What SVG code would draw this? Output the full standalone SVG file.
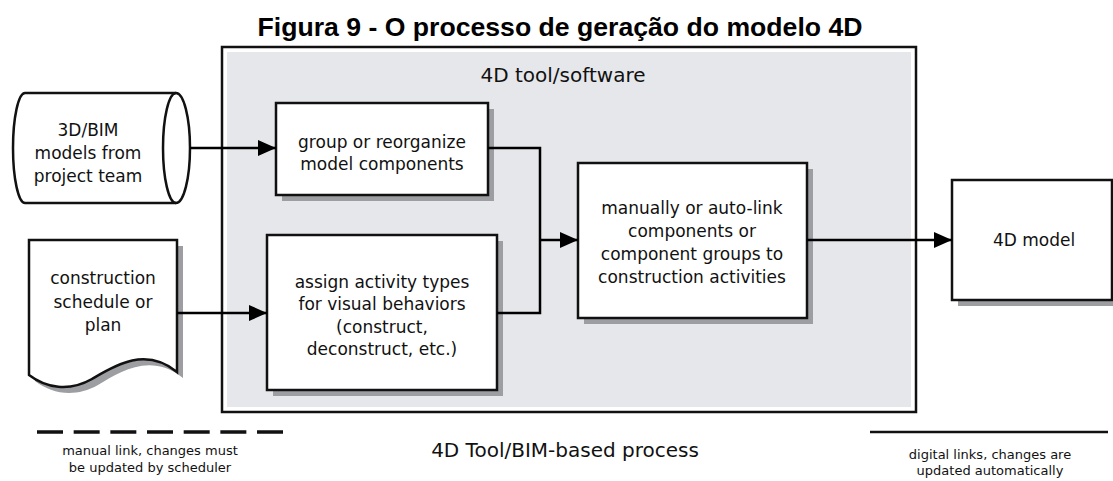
<svg xmlns="http://www.w3.org/2000/svg" width="1113" height="481" viewBox="0 0 1113 481">
<style>
.box{fill:#fff;stroke:#111;stroke-width:2.5}
.sh{fill:#9d9ea2;stroke:none}
.t{font-family:"DejaVu Sans",sans-serif;font-size:17px;fill:#111;text-anchor:middle}
.s{font-family:"DejaVu Sans",sans-serif;font-size:13px;fill:#111;text-anchor:middle}
.c{fill:none;stroke:#000;stroke-width:2.5}
</style>
<defs>
<marker id="ah" markerUnits="userSpaceOnUse" markerWidth="20" markerHeight="16" refX="18" refY="8" orient="auto">
<path d="M0,0 L18,8 L0,16 Z" fill="#000"/>
</marker>
</defs>
<rect width="1113" height="481" fill="#fff"/>
<text x="560" y="36" font-family="Liberation Sans, Arial, sans-serif" font-weight="bold" font-size="26" text-anchor="middle" textLength="605" lengthAdjust="spacingAndGlyphs" fill="#000">Figura 9 - O processo de geração do modelo 4D</text>
<g id="tool">
<rect x="222" y="47" width="694" height="365" fill="#fff" stroke="#111" stroke-width="2.5"/>
<rect x="227" y="52" width="684" height="355" fill="#e5e7ea"/>
<text x="563" y="82" font-family="DejaVu Sans, sans-serif" font-size="20" text-anchor="middle" fill="#111">4D tool/software</text>
</g>
<g id="bim">
<path d="M25,93 L176,93 A14,55 0 0 1 176,203 L25,203 A12,55 0 0 1 25,93 Z" class="box"/>
<path d="M176,93 A13,55 0 0 0 176,203" fill="none" stroke="#111" stroke-width="2.5"/>
<text class="t" x="88" y="136">3D/BIM</text>
<text class="t" x="88" y="159">models from</text>
<text class="t" x="88" y="182">project team</text>
</g>
<g id="schedule">
<path d="M35,246 H183 V378 C150,352 120,372 98,385 C75,398 52,394 35,381 Z" class="sh"/>
<path d="M29,240 H177 V372 C145,346 114,366 92,379 C69,392 46,388 29,375 Z" class="box"/>
<text class="t" x="103" y="284">construction</text>
<text class="t" x="103" y="308">schedule or</text>
<text class="t" x="103" y="331">plan</text>
</g>
<g id="group">
<rect x="282" y="109" width="212" height="92" class="sh"/>
<rect x="276" y="103" width="212" height="92" class="box"/>
<text class="t" x="382" y="148">group or reorganize</text>
<text class="t" x="382" y="170">model components</text>
</g>
<g id="assign">
<rect x="273" y="241" width="230" height="155" class="sh"/>
<rect x="267" y="235" width="230" height="155" class="box"/>
<text class="t" x="382" y="288">assign activity types</text>
<text class="t" x="382" y="310">for visual behaviors</text>
<text class="t" x="382" y="333">(construct,</text>
<text class="t" x="382" y="355">deconstruct, etc.)</text>
</g>
<g id="link">
<rect x="584" y="169" width="229" height="155" class="sh"/>
<rect x="578" y="163" width="229" height="155" class="box"/>
<text class="t" x="692" y="214">manually or auto-link</text>
<text class="t" x="692" y="237">components or</text>
<text class="t" x="692" y="260">component groups to</text>
<text class="t" x="692" y="283">construction activities</text>
</g>
<g id="model4d">
<rect x="958" y="186" width="160" height="120" class="sh"/>
<rect x="952" y="180" width="160" height="120" class="box"/>
<text class="t" x="1034" y="246">4D model</text>
</g>
<g id="connectors">
<line x1="190" y1="148" x2="276" y2="148" class="c" marker-end="url(#ah)"/>
<line x1="177" y1="313" x2="267" y2="313" class="c" marker-end="url(#ah)"/>
<polyline points="488,148 540,148 540,313 497,313" class="c"/>
<line x1="540" y1="240" x2="578" y2="240" class="c" marker-end="url(#ah)"/>
<line x1="807" y1="240" x2="952" y2="240" class="c" marker-end="url(#ah)"/>
</g>
<g id="legend">
<line x1="37" y1="432" x2="283" y2="432" stroke="#111" stroke-width="3.5" stroke-dasharray="26,10.67"/>
<text class="s" x="150" y="455">manual link, changes must</text>
<text class="s" x="150" y="472">be updated by scheduler</text>
<text x="565" y="457" font-family="DejaVu Sans, sans-serif" font-size="20" text-anchor="middle" fill="#111">4D Tool/BIM-based process</text>
<line x1="870" y1="432" x2="1108" y2="432" stroke="#111" stroke-width="2.5"/>
<text class="s" x="990" y="459">digital links, changes are</text>
<text class="s" x="990" y="475">updated automatically</text>
</g>
</svg>
